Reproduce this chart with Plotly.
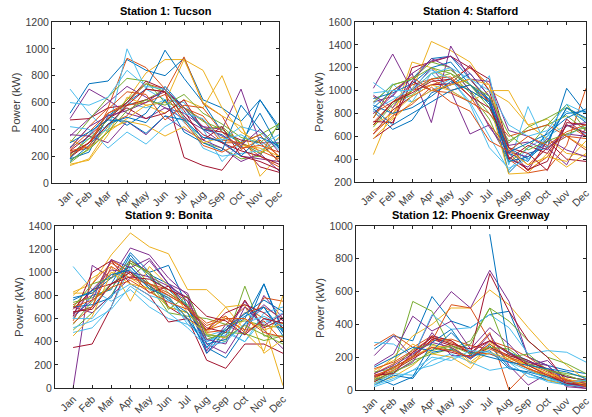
import plotly.graph_objects as go

months = ["Jan", "Feb", "Mar", "Apr", "May", "Jun", "Jul", "Aug", "Sep", "Oct", "Nov", "Dec"]
colors = ["#0072BD", "#D95319", "#EDB120", "#7E2F8E", "#77AC30", "#4DBEEE", "#A2142F"]

titles = ["Station 1: Tucson", "Station 4: Stafford", "Station 9: Bonita", "Station 12: Phoenix Greenway"]

tucson = [
    [520, 740, 760, 920, 840, 800, 930, 620, 560, 460, 620, 420],
    [260, 420, 560, 930, 860, 700, 560, 470, 300, 300, 240, 180],
    [200, 300, 480, 620, 820, 920, 920, 840, 560, 380, 300, 160],
    [350, 480, 600, 720, 640, 560, 520, 420, 400, 700, 300, 300],
    [150, 260, 420, 580, 620, 700, 480, 300, 260, 180, 200, 450],
    [700, 520, 380, 1000, 700, 620, 600, 400, 160, 300, 220, 300],
    [470, 480, 560, 580, 620, 680, 190, 130, 95, 280, 120, 80],
    [180, 230, 500, 600, 700, 990, 780, 600, 380, 300, 520, 260],
    [230, 260, 440, 500, 700, 680, 940, 590, 500, 250, 320, 200],
    [140, 170, 360, 640, 580, 520, 620, 560, 800, 450, 50, 200],
    [480, 700, 620, 520, 480, 560, 480, 400, 300, 200, 180, 160],
    [300, 470, 640, 780, 760, 600, 560, 400, 420, 300, 220, 300],
    [270, 330, 400, 600, 560, 620, 450, 340, 320, 420, 380, 250],
    [190, 300, 480, 560, 480, 520, 620, 400, 380, 320, 300, 160],
    [180, 360, 510, 430, 520, 720, 560, 400, 360, 260, 620, 400],
    [250, 380, 520, 600, 740, 700, 560, 500, 320, 300, 200, 120],
    [320, 260, 380, 480, 580, 600, 920, 600, 500, 420, 220, 340],
    [360, 350, 300, 460, 360, 500, 400, 320, 260, 160, 220, 90],
    [210, 330, 470, 620, 740, 680, 560, 460, 400, 300, 360, 440],
    [420, 400, 260, 380, 290, 420, 500, 260, 200, 220, 240, 330],
    [240, 350, 480, 600, 760, 700, 540, 320, 420, 200, 160, 100],
    [160, 280, 440, 490, 450, 620, 380, 300, 240, 580, 400, 260],
    [200, 300, 520, 580, 600, 660, 460, 280, 230, 300, 360, 190],
    [130, 180, 400, 460, 430, 350, 420, 300, 340, 280, 260, 200],
    [260, 420, 500, 540, 600, 700, 560, 420, 350, 280, 400, 230],
    [170, 250, 380, 540, 620, 580, 660, 520, 440, 340, 300, 420],
    [600, 580, 640, 840, 720, 700, 520, 480, 320, 360, 280, 360],
    [220, 300, 430, 580, 700, 680, 500, 360, 300, 240, 200, 140],
    [300, 380, 470, 460, 370, 500, 470, 340, 310, 200, 340, 280],
    [240, 270, 550, 680, 660, 470, 580, 560, 380, 260, 280, 230],
]

stafford = [
    [850, 1000, 1100, 1280, 1300, 1100, 920, 500, 400, 550, 850, 720],
    [950, 800, 1000, 1050, 1100, 1200, 1050, 450, 300, 420, 700, 600],
    [440, 850, 1000, 1430, 1350, 1250, 1000, 900, 700, 750, 600, 500],
    [1020, 1320, 1000, 1200, 1000, 620, 700, 400, 330, 500, 350, 680],
    [700, 900, 960, 1100, 1150, 980, 750, 370, 500, 700, 880, 650],
    [1070, 950, 900, 1000, 1100, 900, 600, 300, 500, 600, 700, 620],
    [580, 700, 1200, 1250, 1300, 1200, 1100, 500, 300, 560, 400, 380],
    [820, 660, 740, 980, 1050, 1150, 950, 280, 450, 500, 1020, 800],
    [720, 900, 1050, 1100, 1000, 1050, 900, 400, 280, 310, 520, 1020],
    [650, 760, 1250, 1200, 1100, 1000, 900, 270, 280, 450, 330, 450],
    [900, 950, 1150, 720, 1390, 1100, 1080, 650, 600, 500, 620, 600],
    [760, 1050, 1100, 1250, 1200, 1000, 800, 540, 680, 760, 850, 750],
    [880, 1060, 900, 1150, 1000, 900, 1130, 350, 860, 500, 600, 700],
    [620, 830, 950, 1050, 1060, 1220, 1000, 420, 310, 380, 750, 600],
    [930, 980, 1060, 1200, 1250, 1050, 880, 450, 380, 640, 800, 820],
    [800, 900, 1000, 1100, 1120, 950, 700, 500, 350, 500, 600, 480],
    [700, 800, 950, 1050, 1000, 900, 1000, 1000, 700, 580, 450, 430],
    [960, 850, 1080, 1280, 1200, 1000, 680, 460, 420, 580, 480, 420],
    [680, 880, 1000, 1150, 1180, 1050, 850, 560, 650, 700, 780, 650],
    [830, 920, 1020, 1180, 1100, 880, 500, 320, 400, 600, 820, 740],
    [730, 720, 1080, 1000, 1050, 1100, 900, 400, 520, 450, 700, 630],
    [870, 800, 850, 950, 1080, 1000, 900, 380, 420, 560, 850, 760],
    [760, 1000, 1120, 1000, 980, 900, 800, 600, 650, 700, 600, 580],
    [580, 750, 900, 1000, 1050, 1100, 1050, 480, 350, 420, 380, 560],
    [800, 960, 1150, 1260, 1300, 1150, 950, 520, 550, 480, 690, 720],
    [900, 1050, 1100, 1200, 1150, 1050, 950, 620, 480, 560, 620, 680],
    [980, 1000, 1000, 1150, 1200, 1100, 1000, 700, 600, 650, 880, 800],
    [700, 900, 980, 1080, 1100, 950, 850, 500, 450, 300, 720, 700],
    [840, 700, 800, 900, 1000, 1050, 920, 460, 540, 620, 760, 840],
    [620, 780, 880, 1030, 900, 820, 560, 470, 600, 520, 640, 700],
]

bonita = [
    [650, 700, 900, 1170, 1000, 1060, 700, 400, 500, 600, 900, 500],
    [720, 800, 1100, 1000, 900, 800, 700, 500, 550, 700, 600, 560],
    [830, 900, 1150, 1340, 1220, 1160, 850, 850, 700, 500, 550, 20],
    [0, 1060, 950, 1210, 1150, 950, 800, 300, 450, 750, 500, 340],
    [500, 650, 800, 1080, 900, 700, 650, 450, 400, 880, 450, 450],
    [1050, 850, 750, 850, 700, 600, 550, 400, 480, 400, 600, 500],
    [350, 380, 700, 1100, 1000, 700, 600, 240, 170, 380, 380, 300],
    [600, 800, 850, 1150, 950, 850, 700, 350, 260, 500, 900, 480],
    [650, 700, 1110, 1000, 900, 850, 750, 480, 500, 650, 700, 600],
    [820, 820, 1000, 950, 850, 700, 650, 500, 700, 720, 300, 420],
    [700, 650, 800, 950, 1100, 900, 750, 320, 550, 460, 800, 600],
    [550, 750, 900, 1000, 880, 650, 620, 600, 550, 580, 540, 520],
    [480, 520, 700, 1050, 850, 800, 550, 450, 500, 400, 650, 700],
    [620, 1000, 1100, 900, 800, 570, 600, 500, 650, 720, 650, 520],
    [700, 720, 780, 1120, 980, 900, 700, 380, 420, 550, 700, 450],
    [580, 900, 1080, 980, 880, 800, 700, 500, 600, 500, 780, 750],
    [800, 950, 1050, 750, 1050, 880, 650, 480, 620, 480, 320, 800],
    [640, 850, 1020, 1000, 960, 880, 780, 380, 300, 560, 720, 580],
    [740, 780, 860, 1080, 1000, 820, 720, 420, 480, 470, 410, 450],
    [600, 600, 800, 900, 800, 750, 580, 400, 460, 650, 560, 650],
    [680, 850, 900, 1000, 820, 880, 680, 520, 480, 760, 520, 600],
    [780, 820, 950, 1050, 880, 760, 650, 300, 500, 620, 700, 480],
    [560, 700, 1050, 950, 900, 820, 700, 560, 620, 480, 580, 400],
    [450, 620, 1000, 900, 860, 780, 600, 470, 430, 600, 500, 560],
    [620, 760, 1110, 1040, 1120, 900, 820, 420, 380, 700, 540, 640],
    [700, 900, 950, 1100, 980, 680, 800, 460, 440, 540, 460, 380],
    [520, 580, 680, 880, 760, 650, 520, 360, 400, 560, 620, 540],
    [660, 680, 900, 960, 940, 850, 780, 620, 580, 460, 600, 560],
    [760, 840, 980, 1020, 860, 780, 600, 350, 520, 640, 760, 660],
    [700, 760, 870, 930, 830, 740, 680, 540, 600, 600, 480, 440],
]

phoenix = [
    [250, 330, 300, 570, 420, 380, 460, 480, 200, 150, 120, 100],
    [270, 340, 260, 330, 300, 220, 350, 0, 120, 80, 50, 40],
    [100, 200, 330, 400, 500, 500, 610, 520, 380, 250, 150, 60],
    [210, 330, 200, 450, 600, 500, 730, 540, 200, 150, 50, 30],
    [60, 150, 540, 480, 250, 300, 500, 420, 300, 200, 160, 100],
    [290, 280, 200, 460, 370, 380, 460, 380, 220, 240, 230, 170],
    [80, 120, 200, 330, 300, 220, 710, 480, 300, 200, 50, 20],
    [None, None, None, None, None, None, 950, 230, 180, 120, 80, 60],
    [100, 160, 230, 300, 520, 500, 300, 260, 200, 120, 60, 40],
    [40, 80, 150, 250, 280, 170, 260, 200, 150, 100, 60, 30],
    [150, 220, 450, 360, 420, 250, 380, 280, 150, 180, 60, 40],
    [50, 100, 180, 220, 250, 200, 280, 180, 130, 80, 40, 30],
    [20, 60, 120, 150, 200, 210, 220, 170, 80, 60, 50, 60],
    [70, 140, 200, 310, 270, 230, 300, 220, 180, 120, 30, 10],
    [30, 90, 70, 230, 250, 190, 270, 140, 100, 60, 30, 20],
    [90, 130, 210, 300, 310, 270, 250, 200, 160, 110, 60, 50],
    [120, 180, 280, 220, 200, 130, 290, 230, 140, 60, 30, 30],
    [60, 110, 170, 350, 210, 210, 340, 150, 30, 100, 20, 10],
    [110, 130, 250, 280, 240, 280, 500, 200, 220, 120, 100, 80],
    [40, 100, 90, 180, 220, 170, 120, 140, 100, 50, 30, 20],
    [50, 120, 190, 260, 230, 200, 260, 210, 170, 130, 80, 60],
    [80, 30, 80, 290, 370, 210, 240, 130, 110, 80, 30, 40],
    [130, 170, 240, 320, 290, 230, 220, 180, 130, 90, 50, 40],
    [70, 120, 200, 270, 260, 160, 230, 190, 150, 100, 70, 30],
    [100, 150, 220, 290, 260, 190, 300, 220, 170, 150, 40, 20],
    [60, 110, 160, 240, 270, 220, 260, 250, 160, 120, 90, 50],
    [30, 70, 120, 200, 180, 240, 230, 170, 120, 70, 40, 60],
    [90, 100, 230, 320, 280, 250, 300, 230, 150, 90, 40, 30],
    [140, 200, 260, 240, 350, 230, 200, 170, 150, 130, 110, 70],
    [80, 140, 200, 260, 240, 200, 280, 200, 130, 90, 60, 20],
]

y_ranges = [[0, 1200], [200, 1600], [0, 1400], [0, 1000]]
y_dtick = [200, 200, 200, 200]

W, H = 592, 417
# plot boxes in pixels: (left, right, top, bottom)
boxes = [(52, 279, 22, 183), (355, 586, 22, 182), (55, 283, 226, 388), (356, 586, 226, 390)]

stations = [tucson, stafford, bonita, phoenix]
fig = go.Figure()
x_vals = list(range(1, 13))
font_family = "Liberation Sans, Arial, sans-serif"
axis_color = "#262626"
layout = {}
annotations = []
for k, (series_set, box) in enumerate(zip(stations, boxes)):
    xa = "x" if k == 0 else f"x{k+1}"
    ya = "y" if k == 0 else f"y{k+1}"
    for i, s in enumerate(series_set):
        fig.add_trace(go.Scatter(
            x=x_vals, y=s, mode="lines", xaxis=xa, yaxis=ya,
            line=dict(color=colors[i % len(colors)], width=1),
            showlegend=False, hoverinfo="skip", connectgaps=False,
        ))
    l, r, t, b = box
    xkey = "xaxis" if k == 0 else f"xaxis{k+1}"
    ykey = "yaxis" if k == 0 else f"yaxis{k+1}"
    layout[xkey] = dict(
        domain=[l / W, r / W], anchor=ya, range=[0.05, 12], automargin=False,
        tickmode="array", tickvals=x_vals, ticktext=months, tickangle=-45,
        ticks="inside", ticklen=3, tickcolor=axis_color, mirror="allticks",
        showline=True, linecolor=axis_color, linewidth=1, showgrid=False, zeroline=False,
        tickfont=dict(family=font_family, size=10.5, color="#404040"),
    )
    layout[ykey] = dict(
        domain=[1 - b / H, 1 - t / H], anchor=xa, range=y_ranges[k], dtick=y_dtick[k],
        automargin=False,
        ticks="inside", ticklen=3, tickcolor=axis_color, mirror="allticks",
        showline=True, linecolor=axis_color, linewidth=1, showgrid=False, zeroline=False,
        tickfont=dict(family=font_family, size=10.5, color="#404040"),
        title=dict(text="Power (kW)", font=dict(family=font_family, size=11.5, color="#404040"), standoff=2),
    )
    annotations.append(dict(
        text=f"<b>{titles[k]}</b>", xref="paper", yref="paper",
        x=(l + r) / 2 / W, y=1 - (t - 3) / H, xanchor="center", yanchor="bottom",
        showarrow=False, font=dict(family=font_family, size=11, color="#000000"),
    ))

fig.update_layout(
    width=W, height=H, margin=dict(l=0, r=0, t=0, b=0),
    paper_bgcolor="white", plot_bgcolor="white",
    annotations=annotations, **layout,
)
fig.write_html(
    "out.html",
    config={"displayModeBar": False, "staticPlot": True},
    post_script="document.body.style.margin='0';document.body.style.padding='0';",
)
